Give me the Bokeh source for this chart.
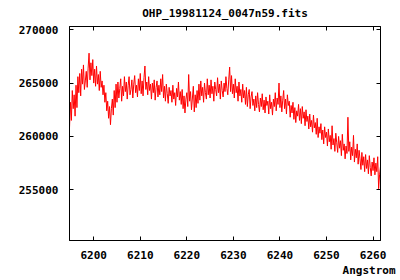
from bokeh.plotting import figure
from bokeh.models import (Range1d, LinearAxis, SingleIntervalTicker, CustomJSTickFormatter,
                          BasicTickFormatter, Title)
from bokeh.embed import file_html
from bokeh.resources import INLINE

title_text = "OHP_19981124_0047n59.fits"
xlabel_text = "Angstrom"

# FITS-style linear wavelength solution of the spectrum
CRVAL1 = 6194.8   # wavelength of first pixel (Angstrom)
CDELT1 = 0.2      # Angstrom per pixel

flux = [
    260800, 263200, 261500, 264300, 262600, 263900, 261900, 264800, 262700, 265600,
    264100, 265900, 263800, 266300, 264900, 266700, 264400, 265200, 266100, 264600,
    266400, 267800, 265300, 266900, 265700, 267200, 265000, 266300, 264700, 266600,
    264900, 265800, 264300, 266100, 264600, 265200, 263900, 264800, 263200, 264100,
    262400, 263300, 261700, 262800, 261100, 262600, 263500, 262000, 264300, 262700,
    264900, 263200, 265100, 263600, 264500, 265400, 263300, 264700, 263800, 265600,
    264200, 265100, 263500, 264800, 265600, 263900, 264400, 265300, 263600, 264900,
    265700, 264100, 264800, 263700, 265400, 264300, 265900, 264000, 265200, 263800,
    265500, 266600, 264400, 265100, 263900, 265600, 264300, 264900, 263500, 265000,
    264100, 265300, 263400, 264600, 265200, 263700, 264800, 263900, 265400, 264200,
    265800, 263600, 264700, 263300, 264900, 264000, 263100, 264600, 263800, 264300,
    263200, 264800, 263500, 264100, 262900, 264500, 263700, 265100, 263400, 264200,
    263000, 264400, 262600, 263800, 262200, 263500, 264100, 262800, 265800, 263300,
    264200, 262500, 263600, 264700, 262300, 263900, 262700, 264300, 263100, 264900,
    263400, 265200, 263800, 264600, 263200, 265000, 264100, 263500, 265400, 263900,
    264800, 263600, 265300, 264000, 264700, 263300, 265100, 264400, 263800, 265500,
    264100, 264900, 263500, 265200, 264300, 263700, 265000, 264200, 265600, 264500,
    263900, 265300, 266500, 264200, 265700, 264000, 264900, 263600, 265400, 264100,
    264700, 263300, 265100, 263800, 264400, 263200, 264900, 263600, 264300, 263000,
    264600, 262800, 263900, 264400, 262600, 263700, 264200, 262900, 263500, 262400,
    263800, 262700, 264100, 263000, 262300, 263600, 262800, 264000, 262500, 263400,
    262200, 263700, 262900, 263300, 262100, 263900, 262600, 263200, 262000, 263500,
    262800, 264100, 262400, 263600, 263000, 265000, 262700, 263800, 262300, 263400,
    264300, 262600, 263500, 262100, 263900, 262900, 263300, 261800, 262900, 262200,
    263200, 261600, 262700, 261300, 262400, 261900, 263000, 261500, 262600, 261200,
    262800, 261700, 262300, 261000, 262500, 261400, 261900, 260700, 262100, 260900,
    261500, 260400, 262000, 260800, 261300, 260200, 261700, 259900, 260900, 260300,
    261200, 259700, 260600, 259300, 260900, 259900, 260400, 259100, 260700, 259500,
    260100, 258800, 261000, 259200, 259800, 258600, 260300, 259400, 258500, 260000,
    258900, 259600, 258200, 260200, 258700, 259300, 257900, 259100, 258400, 261800,
    258600, 259500, 257800, 259000, 258200, 260100, 257600, 258800, 258000, 259300,
    257400, 258700, 257900, 256900, 258500, 257300, 258100, 256700, 258300, 257000,
    257800, 256500, 258200, 257100, 256300, 257600, 256800, 258000, 256400, 257500,
    256700, 258100, 255100, 256400, 257200,
]

wavelength = [round(CRVAL1 + CDELT1 * i, 2) for i in range(len(flux))]

FONT = "DejaVu Sans Mono"

p = figure(width=400, height=280, output_backend="svg", toolbar_location=None,
           x_range=Range1d(6194.8, 6261.6), y_range=Range1d(250250, 270300),
           min_border_left=69, min_border_right=20, min_border_top=26, min_border_bottom=40)
p.background_fill_color = "white"
p.border_fill_color = "white"
p.outline_line_color = "black"
p.outline_line_width = 1
p.grid.visible = False

p.line(wavelength, flux, line_color="#ff0000", line_width=1)

p.title.text = title_text
p.title.align = "center"
p.title.text_font = FONT
p.title.text_font_style = "bold"
p.title.text_font_size = "11px"
p.title.text_color = "black"
p.title.offset = 0
p.title.standoff = 6

xt = SingleIntervalTicker(interval=10)
yt = SingleIntervalTicker(interval=5000)
p.xaxis.ticker = xt
p.yaxis.ticker = yt
p.yaxis.formatter = BasicTickFormatter(use_scientific=False)

for ax in p.xaxis + p.yaxis:
    ax.major_tick_in = 4
    ax.major_tick_out = 0
    ax.minor_tick_line_color = None
    ax.axis_line_color = "black"
    ax.major_tick_line_color = "black"
    ax.major_label_text_font = FONT
    ax.major_label_text_font_style = "bold"
    ax.major_label_text_font_size = "11px"
    ax.major_label_text_color = "black"
p.xaxis.major_label_standoff = 6
p.yaxis.major_label_standoff = 7

blank = CustomJSTickFormatter(code="return ''")
for loc, tk in (("right", yt), ("above", xt)):
    ax = LinearAxis(ticker=tk, formatter=blank)
    ax.major_tick_in = 4
    ax.major_tick_out = 0
    ax.minor_tick_line_color = None
    ax.major_label_standoff = 0
    ax.major_label_text_font_size = "1px"
    p.add_layout(ax, loc)

xl = Title(text=xlabel_text, align="right", text_font=FONT, text_font_style="bold",
           text_font_size="11px", text_color="black", offset=-15, standoff=0)
p.add_layout(xl, "below")

open("out.html", "w").write(file_html(p, INLINE))
